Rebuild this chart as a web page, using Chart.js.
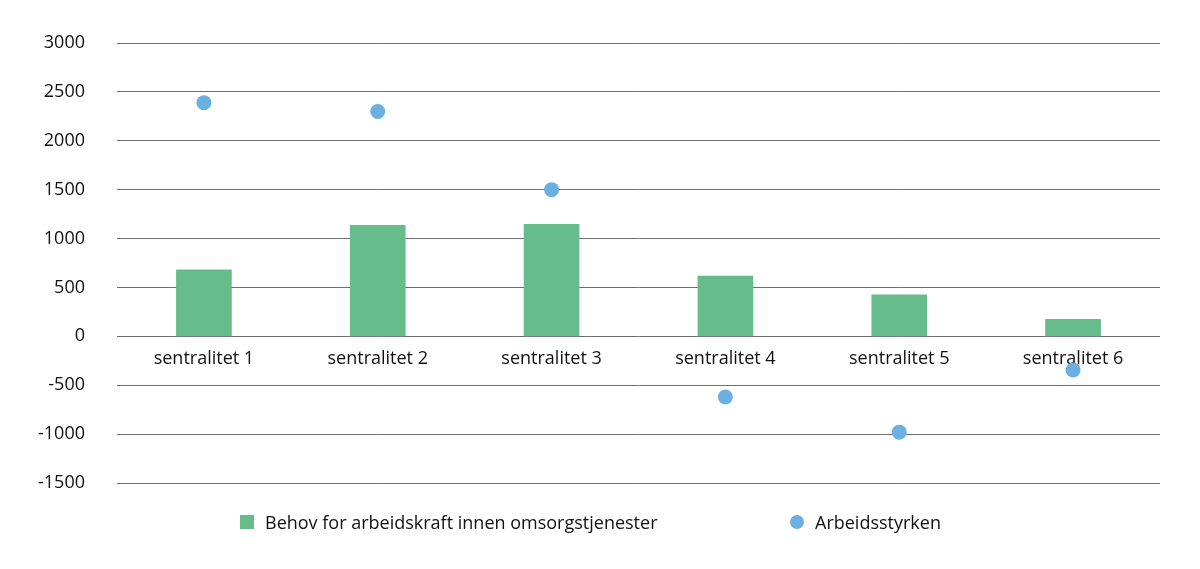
<!DOCTYPE html>
<html lang="no">
<head>
<meta charset="utf-8">
<title>Behov for arbeidskraft og arbeidsstyrken etter sentralitet</title>
<script src="https://cdn.jsdelivr.net/npm/chart.js@4/dist/chart.umd.min.js"></script>
<style>
  html, body { margin: 0; padding: 0; background: #fff; }
  .wrap { position: relative; width: 1200px; height: 569px; }
  #chart { display: block; }
  .legend { position: absolute; top: 510px; left: 0; width: 1200px; height: 26px;
            font-family: "Open Sans", "Noto Sans", sans-serif; font-size: 18px; color: #111; }
  .legend-item { position: absolute; top: 0; display: flex; align-items: center; white-space: nowrap; }
  .legend-swatch { width: 14px; height: 14px; margin-right: 11px; }
  .legend-swatch.round { border-radius: 50%; }
</style>
</head>
<body>
<div class="wrap">
  <canvas id="chart" width="1200" height="569"></canvas>
  <div class="legend" id="legend"></div>
</div>
<script>
// Data
const categories = ['sentralitet 1', 'sentralitet 2', 'sentralitet 3', 'sentralitet 4', 'sentralitet 5', 'sentralitet 6'];
const behovOmsorg = [680, 1135, 1145, 615, 425, 175];
const arbeidsstyrken = [2390, 2300, 1500, -620, -980, -345];
const yMin = -1500;
const yMax = 3000;
const yStep = 500;

const green = '#66bc8a';
const blue = '#6bb0e0';
const fontFamily = '"Open Sans", "Noto Sans", sans-serif';

const chart = new Chart(document.getElementById('chart'), {
  data: {
    labels: categories,
    datasets: [
      {
        type: 'bar',
        label: 'Behov for arbeidskraft innen omsorgstjenester',
        data: behovOmsorg,
        backgroundColor: green,
        barThickness: 55
      },
      {
        type: 'line',
        label: 'Arbeidsstyrken',
        data: arbeidsstyrken,
        showLine: false,
        pointRadius: 7.5,
        pointHoverRadius: 7.5,
        pointBackgroundColor: blue,
        pointBorderWidth: 0,
        borderColor: blue,
        backgroundColor: blue
      }
    ]
  },
  options: {
    responsive: false,
    animation: false,
    layout: { padding: { top: 43, right: 40, bottom: 86, left: 0 } },
    plugins: {
      legend: { display: false },
      tooltip: { enabled: false }
    },
    scales: {
      x: {
        position: { y: 0 },
        grid: { display: false },
        border: { display: false },
        ticks: {
          color: '#111',
          padding: 4,
          font: { family: fontFamily, size: 18 }
        }
      },
      y: {
        min: yMin,
        max: yMax,
        afterFit: scale => { scale.width = 117; },
        grid: { color: '#6e6e6e', lineWidth: 1, drawTicks: false },
        border: { display: false },
        ticks: {
          stepSize: yStep,
          padding: 32,
          color: '#111',
          font: { family: fontFamily, size: 18 },
          callback: v => String(v)
        }
      }
    }
  }
});

// Legend in HTML, built from the datasets
const legendEl = document.getElementById('legend');
const legendLeft = [240, 790];
chart.data.datasets.forEach((ds, i) => {
  const item = document.createElement('div');
  item.className = 'legend-item';
  item.style.left = legendLeft[i] + 'px';
  const sw = document.createElement('span');
  sw.className = 'legend-swatch' + (ds.type === 'line' ? ' round' : '');
  sw.style.background = ds.type === 'line' ? ds.pointBackgroundColor : ds.backgroundColor;
  const txt = document.createElement('span');
  txt.textContent = ds.label;
  item.appendChild(sw);
  item.appendChild(txt);
  legendEl.appendChild(item);
});
</script>
</body>
</html>
